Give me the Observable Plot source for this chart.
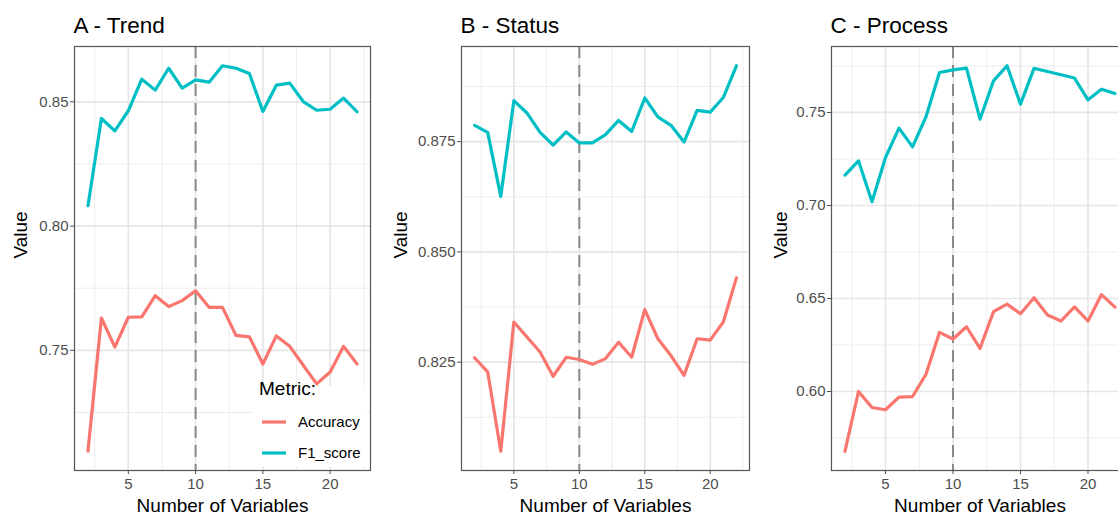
<!DOCTYPE html>
<html>
<head>
<meta charset="utf-8">
<script src="https://cdn.jsdelivr.net/npm/d3@7"></script>
<script src="https://cdn.jsdelivr.net/npm/@observablehq/plot@0.6"></script>
<style>
  html, body { margin: 0; padding: 0; background: #fff; }
  #wrap { position: relative; width: 1118px; height: 516px; overflow: hidden; background: #fff;
          font-family: "Liberation Sans", Arial, Helvetica, sans-serif; }
  .panel { position: absolute; top: 0; width: 380px; height: 516px; }
  .panel svg { max-width: none !important; }
  #legendBg { position: absolute; left: 253px; top: 386px; width: 114px; height: 81px; background: #fff; }
  #legendTitle { position: absolute; left: 259px; top: 378px; font-size: 19px; line-height: 22px; color: #000; }
  .item { position: absolute; left: 262px; font-size: 15px; line-height: 18px; color: #000; display: flex; align-items: center; }
  .item svg { margin-right: 12px; }
</style>
</head>
<body>
<div id="wrap"></div>
<script>
// ---- data ----
const numVars = [2, 3, 4, 5, 6, 7, 8, 9, 10, 11, 12, 13, 14, 15, 16, 17, 18, 19, 20, 21, 22];
const metrics = ["Accuracy", "F1_score"];
const metricColors = ["#F8766D", "#00BFC4"];

const trendAccuracy = [0.7094, 0.7630, 0.7513, 0.7633, 0.7635, 0.7720, 0.7676, 0.7700, 0.7740, 0.7673, 0.7673,
  0.7560, 0.7554, 0.7445, 0.7558, 0.7516, 0.7440, 0.7365, 0.7413, 0.7516, 0.7445];
const trendF1 = [0.8082, 0.8433, 0.8383, 0.8464, 0.8591, 0.8547, 0.8635, 0.8555, 0.8588, 0.8579, 0.8645,
  0.8635, 0.8614, 0.8461, 0.8567, 0.8575, 0.8501, 0.8466, 0.8470, 0.8515, 0.8460];

const statusAccuracy = [0.8260, 0.8228, 0.8048, 0.8341, 0.8307, 0.8273, 0.8218, 0.8261, 0.8256, 0.8245, 0.8258,
  0.8295, 0.8261, 0.8369, 0.8303, 0.8265, 0.8220, 0.8303, 0.8300, 0.8341, 0.8441];
const statusF1 = [0.8787, 0.8771, 0.8626, 0.8843, 0.8815, 0.8771, 0.8742, 0.8772, 0.8747, 0.8747, 0.8766,
  0.8798, 0.8773, 0.8849, 0.8806, 0.8787, 0.8749, 0.8821, 0.8817, 0.8850, 0.8922];

const processAccuracy = [0.5679, 0.6000, 0.5914, 0.5902, 0.5970, 0.5973, 0.6093, 0.6318, 0.6282, 0.6348, 0.6232,
  0.6429, 0.6470, 0.6418, 0.6504, 0.6411, 0.6379, 0.6455, 0.6379, 0.6521, 0.6454];
const processF1 = [0.7163, 0.7240, 0.7020, 0.7258, 0.7416, 0.7315, 0.7477, 0.7715, 0.7729, 0.7738, 0.7464,
  0.7670, 0.7751, 0.7545, 0.7737, 0.7720, 0.7703, 0.7685, 0.7568, 0.7625, 0.7602];

const cutoff = [10];
const xTicks = [5, 10, 15, 20];
const xMinorTicks = [2.5, 7.5, 12.5, 17.5, 22.5];

const trendYTicks = [0.75, 0.80, 0.85];
const trendYMinor = [0.725, 0.775, 0.825, 0.875];
const statusYTicks = [0.825, 0.850, 0.875];
const statusYMinor = [0.8125, 0.8375, 0.8625, 0.8875];
const processYTicks = [0.60, 0.65, 0.70, 0.75];
const processYMinor = [0.575, 0.625, 0.675, 0.725, 0.775];

const panelTitles = ["A - Trend", "B - Status", "C - Process"];
const xLabel = "Number of Variables";
const yLabel = "Value";
const legendTitle = "Metric:";

// ---- layout ----
const FONT = "'Liberation Sans', Arial, Helvetica, sans-serif";
const panels = [
  {title: panelTitles[0], acc: trendAccuracy, f1: trendF1, yt: trendYTicks, ym: trendYMinor, fmt: ".2f", left: 0, ml: 74, mr: 10},
  {title: panelTitles[1], acc: statusAccuracy, f1: statusF1, yt: statusYTicks, ym: statusYMinor, fmt: ".3f", left: 380, ml: 81, mr: 11},
  {title: panelTitles[2], acc: processAccuracy, f1: processF1, yt: processYTicks, ym: processYMinor, fmt: ".2f", left: 760, ml: 71, mr: 12}
];

function expand(ext, f) { const d = (ext[1] - ext[0]) * f; return [ext[0] - d, ext[1] + d]; }

const wrap = document.getElementById("wrap");

panels.forEach((p, pi) => {
  const rows = [];
  numVars.forEach((n, i) => {
    rows.push({n, metric: metrics[0], value: p.acc[i]});
    rows.push({n, metric: metrics[1], value: p.f1[i]});
  });
  const yDomain = expand(d3.extent(rows, d => d.value), 0.05);
  const xDomain = expand(d3.extent(numVars), 0.05);

  const marks = [
    Plot.gridX(xMinorTicks.filter(v => v > xDomain[0] && v < xDomain[1]), {stroke: "#ebebeb", strokeOpacity: 1, strokeWidth: 0.9}),
    Plot.gridY(p.ym.filter(v => v > yDomain[0] && v < yDomain[1]), {stroke: "#ebebeb", strokeOpacity: 1, strokeWidth: 0.9}),
    Plot.gridX(xTicks, {stroke: "#e6e6e6", strokeOpacity: 1, strokeWidth: 1.7}),
    Plot.gridY(p.yt, {stroke: "#e6e6e6", strokeOpacity: 1, strokeWidth: 1.7}),
    Plot.ruleX(cutoff, {stroke: "#8a8a8a", strokeWidth: 2, strokeDasharray: "12,7"}),
    Plot.line(rows, {x: "n", y: "value", stroke: "metric", z: "metric", strokeWidth: 3.2, curve: "linear"}),
    Plot.frame({stroke: "#555", strokeWidth: 1.2}),
    Plot.axisX(xTicks, {tickSize: 4, tickPadding: 4, fontSize: 15, color: "#4d4d4d", label: null}),
    Plot.axisY(p.yt, {tickSize: 4, tickPadding: 2, fontSize: 15, color: "#4d4d4d", tickFormat: d3.format(p.fmt), label: null}),
    Plot.text([p.title], {frameAnchor: "top-left", dx: -1, dy: -21, textAnchor: "start", lineAnchor: "middle", fontSize: 22.5, fill: "#000"}),
    Plot.text([xLabel], {frameAnchor: "bottom", dy: 35, lineAnchor: "middle", fontSize: 19, fill: "#000"}),
    Plot.text([yLabel], {frameAnchor: "left", dx: -(p.ml - 20), rotate: -90, lineAnchor: "middle", fontSize: 19, fill: "#000"})
  ];

  const chart = Plot.plot({
    width: 380,
    height: 516,
    marginLeft: p.ml,
    marginRight: p.mr,
    marginTop: 46,
    marginBottom: 46,
    style: {fontFamily: FONT, background: "transparent", overflow: "visible", maxWidth: "none"},
    x: {domain: xDomain},
    y: {domain: yDomain},
    color: {domain: metrics, range: metricColors},
    marks
  });
  const div = document.createElement("div");
  div.className = "panel";
  div.style.left = p.left + "px";
  div.appendChild(chart);
  wrap.appendChild(div);
});

// ---- legend (inside panel A) ----
const bg = document.createElement("div");
bg.id = "legendBg";
wrap.appendChild(bg);
const lt = document.createElement("div");
lt.id = "legendTitle";
lt.textContent = legendTitle;
wrap.appendChild(lt);
metrics.forEach((m, i) => {
  const item = document.createElement("div");
  item.className = "item";
  item.style.top = (413 + i * 31) + "px";
  item.innerHTML = `<svg width="24" height="18"><line x1="0" x2="24" y1="9" y2="9" stroke="${metricColors[i]}" stroke-width="3.2"/></svg><span>${m}</span>`;
  wrap.appendChild(item);
});
</script>
</body>
</html>
